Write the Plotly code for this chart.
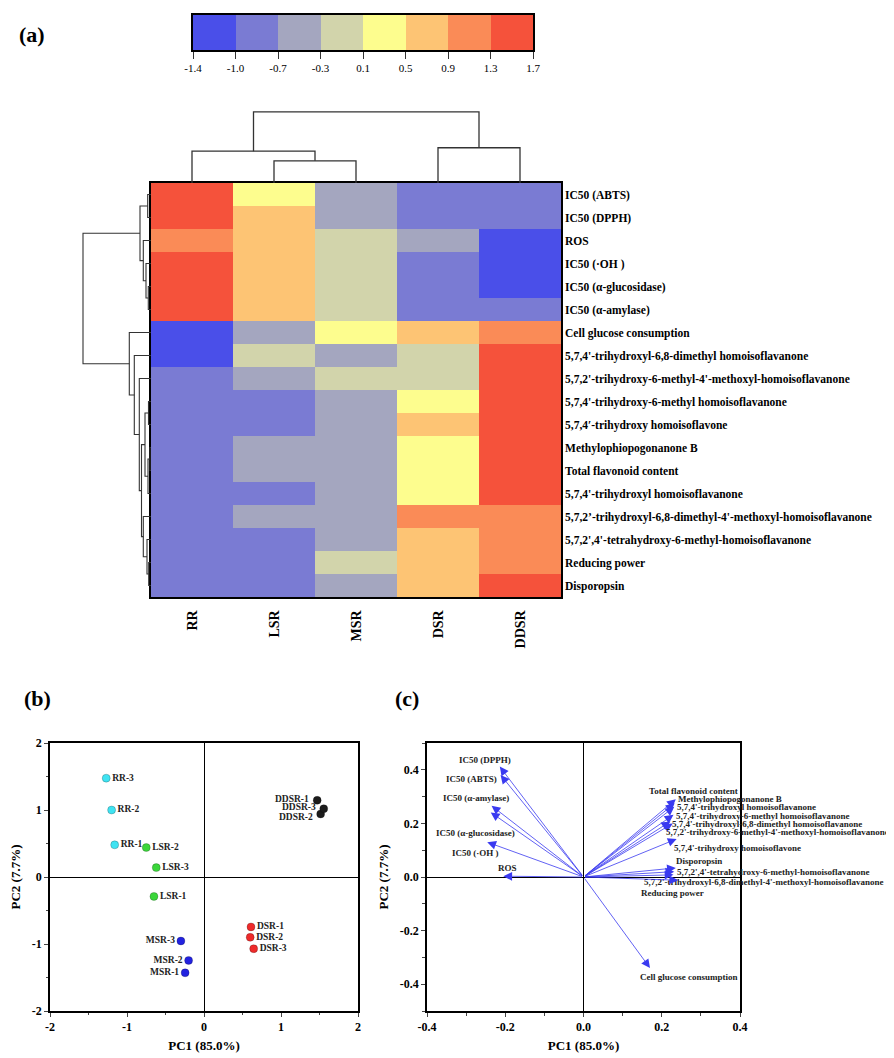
import plotly.graph_objects as go

# ---------------- DATA ----------------
samples_hm = ["RR", "LSR", "MSR", "DSR", "DDSR"]
row_labels = [
    "IC50 (ABTS)", "IC50 (DPPH)", "ROS", "IC50 (·OH )", "IC50 (α-glucosidase)", "IC50 (α-amylase)",
    "Cell glucose consumption",
    "5,7,4'-trihydroxyl-6,8-dimethyl homoisoflavanone",
    "5,7,2'-trihydroxy-6-methyl-4'-methoxyl-homoisoflavanone",
    "5,7,4'-trihydroxy-6-methyl homoisoflavanone",
    "5,7,4′-trihydroxy homoisoflavone",
    "Methylophiopogonanone B",
    "Total flavonoid content",
    "5,7,4'-trihydroxyl homoisoflavanone",
    "5,7,2’-trihydroxyl-6,8-dimethyl-4'-methoxyl-homoisoflavanone",
    "5,7,2',4'-tetrahydroxy-6-methyl-homoisoflavanone",
    "Reducing power",
    "Disporopsin",
]
heat_values = [
    [1.5, 0.3, -0.5, -0.85, -0.85],
    [1.5, 0.7, -0.5, -0.85, -0.85],
    [1.1, 0.7, -0.1, -0.5, -1.2],
    [1.5, 0.7, -0.1, -0.85, -1.2],
    [1.5, 0.7, -0.1, -0.85, -1.2],
    [1.5, 0.7, -0.1, -0.85, -0.85],
    [-1.2, -0.5, 0.3, 0.7, 1.1],
    [-1.2, -0.1, -0.5, -0.1, 1.5],
    [-0.85, -0.5, -0.1, -0.1, 1.5],
    [-0.85, -0.85, -0.5, 0.3, 1.5],
    [-0.85, -0.85, -0.5, 0.7, 1.5],
    [-0.85, -0.5, -0.5, 0.3, 1.5],
    [-0.85, -0.5, -0.5, 0.3, 1.5],
    [-0.85, -0.85, -0.5, 0.3, 1.5],
    [-0.85, -0.5, -0.5, 1.1, 1.1],
    [-0.85, -0.85, -0.5, 0.7, 1.1],
    [-0.85, -0.85, -0.1, 0.7, 1.1],
    [-0.85, -0.85, -0.5, 0.7, 1.5],
]
color_edges = [-1.4, -1.0, -0.7, -0.3, 0.1, 0.5, 0.9, 1.3, 1.7]
bin_colors = ["#4a4fe9", "#7a7bd3", "#a4a6bf", "#d2d4ab", "#fdfd8e", "#fdc474", "#fa8b57", "#f5523b"]

# dendrogram trees: (left, right, merge height); leaves are indices
col_tree = ((0, (1, 2, 22), 31.6), (3, 4, 35), 70.6)
row_tree = (
    ((0, 1, 3.3), (2, (3, (4, 5, 2.7), 5), 7.7), 11),
    (6, (7, (8, (((9, 10, 2.5), ((11, 12, 1), 13, 3), 6),
                 (14, (15, (16, 17, 2.3), 4), 7.7), 9.5), 11.7), 16.7), 21.7),
    68,
)

# PCA scores
score_names = ["RR-1", "RR-2", "RR-3", "LSR-1", "LSR-2", "LSR-3", "MSR-1", "MSR-2", "MSR-3",
               "DSR-1", "DSR-2", "DSR-3", "DDSR-1", "DDSR-2", "DDSR-3"]
score_group = ["RR"] * 3 + ["LSR"] * 3 + ["MSR"] * 3 + ["DSR"] * 3 + ["DDSR"] * 3
pc1_scores = [-1.16, -1.20, -1.27, -0.65, -0.75, -0.62, -0.245, -0.20, -0.30,
              0.61, 0.60, 0.645, 1.47, 1.515, 1.555]
pc2_scores = [0.48, 1.00, 1.475, -0.29, 0.44, 0.14, -1.43, -1.245, -0.955,
              -0.745, -0.90, -1.07, 1.145, 0.94, 1.02]

# PCA loadings
load_names = [
    "IC50 (DPPH)", "IC50 (ABTS)", "IC50 (α-amylase)", "IC50 (α-glucosidase)", "IC50 (·OH )", "ROS",
    "Total flavonoid content", "Methylophiopogonanone B",
    "5,7,4'-trihydroxyl homoisoflavanone", "5,7,4'-trihydroxy-6-methyl homoisoflavanone",
    "5,7,4'-trihydroxyl-6,8-dimethyl homoisoflavanone",
    "5,7,2'-trihydroxy-6-methyl-4'-methoxyl-homoisoflavanone",
    "5,7,4'-trihydroxy homoisoflavone", "Disporopsin",
    "5,7,2',4'-tetrahydroxy-6-methyl-homoisoflavanone",
    "5,7,2'-trihydroxyl-6,8-dimethyl-4'-methoxyl-homoisoflavanone",
    "Reducing power", "Cell glucose consumption",
]
load_pc1 = [-0.214, -0.212, -0.235, -0.237, -0.246, -0.205,
            0.236, 0.233, 0.232, 0.230, 0.222, 0.228, 0.238, 0.236, 0.232, 0.230, 0.242, 0.170]
load_pc2 = [0.412, 0.381, 0.266, 0.241, 0.130, 0.003,
            0.290, 0.275, 0.262, 0.232, 0.207, 0.200, 0.142, 0.034, 0.020, 0.008, -0.012, -0.340]

# ---------------- LAYOUT HELPERS ----------------
# the page body has an 8px margin, so the figure is drawn 8px in from the window corner
OFF = 8
W, H = 894 - OFF, 1058 - OFF
def fx(p): return (p - OFF) / W
def fy(p): return 1 - (p - OFF) / H

SERIF = "Liberation Serif"
fig = go.Figure()

zmin, zmax = color_edges[0], color_edges[-1]
cscale = []
for i, c in enumerate(bin_colors):
    cscale.append([(color_edges[i] - zmin) / (zmax - zmin), c])
    cscale.append([(color_edges[i + 1] - zmin) / (zmax - zmin), c])

# main heatmap
fig.add_trace(go.Heatmap(z=heat_values, x=samples_hm, y=row_labels, colorscale=cscale,
                         zmin=zmin, zmax=zmax, showscale=False, xaxis="x", yaxis="y",
                         hoverinfo="skip"))

# colour bar as its own strip
bin_mids = [(color_edges[i] + color_edges[i + 1]) / 2 for i in range(len(bin_colors))]
fig.add_trace(go.Heatmap(z=[bin_mids], x=list(range(len(bin_mids))), y=[0], colorscale=cscale,
                         zmin=zmin, zmax=zmax, showscale=False, xaxis="x2", yaxis="y2",
                         hoverinfo="skip"))

# dendrograms
def layout_tree(node, segs):
    if isinstance(node, int):
        return float(node), 0.0
    l, r, h = node
    pl, hl = layout_tree(l, segs)
    pr, hr = layout_tree(r, segs)
    segs.append(((pl, hl), (pl, h), (pr, h), (pr, hr)))
    return (pl + pr) / 2, h

csegs = []
layout_tree(col_tree, csegs)
cx, cy = [], []
for s in csegs:
    for p, hgt in s:
        cx.append(p); cy.append(hgt)
    cx.append(None); cy.append(None)
fig.add_trace(go.Scatter(x=cx, y=cy, mode="lines", line=dict(color="#333", width=1.3),
                         xaxis="x3", yaxis="y3", hoverinfo="skip", cliponaxis=False))

rsegs = []
layout_tree(row_tree, rsegs)
rx, ry = [], []
for s in rsegs:
    for p, hgt in s:
        rx.append(hgt); ry.append(p)
    rx.append(None); ry.append(None)
fig.add_trace(go.Scatter(x=rx, y=ry, mode="lines", line=dict(color="#333", width=1.1),
                         xaxis="x4", yaxis="y4", hoverinfo="skip", cliponaxis=False))

# PCA scores
group_colors = {"RR": "#3fe3f2", "LSR": "#3ad63a", "MSR": "#2222e0", "DSR": "#ee2b2b", "DDSR": "#1c1c1c"}
group_textpos = {"RR": "middle right", "LSR": "middle right", "MSR": "middle left",
                 "DSR": "middle right", "DDSR": "middle left"}
for g in ["RR", "LSR", "MSR", "DSR", "DDSR"]:
    idx = [i for i, gg in enumerate(score_group) if gg == g]
    show_text = g != "DDSR"
    fig.add_trace(go.Scatter(
        x=[pc1_scores[i] for i in idx], y=[pc2_scores[i] for i in idx],
        text=[f"<b>{score_names[i]}</b>" for i in idx],
        mode="markers+text" if show_text else "markers",
        textposition=group_textpos[g],
        textfont=dict(family=SERIF, size=9.5, color="#222"),
        marker=dict(size=8, color=group_colors[g], line=dict(color="rgba(0,0,0,0.35)", width=0.6)),
        xaxis="x5", yaxis="y5", hoverinfo="skip", cliponaxis=False))

fig.add_trace(go.Scatter(x=load_pc1, y=load_pc2, mode="markers", marker=dict(size=1, color="rgba(0,0,0,0)"),
                         xaxis="x6", yaxis="y6", hoverinfo="skip"))

# ---------------- AXES ----------------
frame = dict(showline=True, linecolor="black", linewidth=1.5, mirror=True, automargin=False)
tickfont_b = dict(family=SERIF, size=12, color="black")

X6_DOM = [fx(427), fx(740)]
Y6_DOM = [fy(1011), fy(743)]
X6_RANGE = [-0.4, 0.4]
Y6_RANGE = [-0.5, 0.5]

fig.update_layout(
    width=W, height=H, margin=dict(l=0, r=0, t=0, b=0, autoexpand=False),
    paper_bgcolor="white", plot_bgcolor="white", showlegend=False,
    font=dict(family=SERIF, color="black"),
    xaxis=dict(domain=[fx(151), fx(561)], anchor="y", tickangle=-90, ticks="", showgrid=False,
               tickfont=dict(family=SERIF, size=14, color="black"), ticklabelstandoff=6, **frame),
    yaxis=dict(domain=[fy(597), fy(183)], anchor="x", autorange="reversed", side="right", ticks="",
               showgrid=False, tickfont=dict(family=SERIF, size=11.5, color="black"),
               ticklabelstandoff=0, **frame),
    xaxis2=dict(domain=[fx(193), fx(533)], anchor="y2", range=[-0.5, 7.5],
                tickvals=[i - 0.5 for i in range(len(color_edges))],
                ticktext=[f"{e:.1f}" for e in color_edges], ticks="outside", ticklen=7,
                tickcolor="#333", tickfont=dict(family=SERIF, size=11, color="black"),
                showgrid=False, zeroline=False, **frame),
    yaxis2=dict(domain=[fy(50), fy(15)], anchor="x2", showticklabels=False, ticks="",
                showgrid=False, zeroline=False, **frame),
    xaxis3=dict(domain=[fx(151), fx(561)], anchor="y3", range=[-0.5, 4.5], visible=False, automargin=False),
    yaxis3=dict(domain=[fy(183), fy(111)], anchor="x3", range=[0, 71.5], visible=False, automargin=False),
    xaxis4=dict(domain=[fx(80), fx(151)], anchor="y4", range=[71, 0], visible=False, automargin=False),
    yaxis4=dict(domain=[fy(597), fy(183)], anchor="x4", range=[17.5, -0.5], visible=False, automargin=False),
    xaxis5=dict(domain=[fx(50), fx(358)], anchor="y5", range=[-2, 2], ticks="outside",
                ticklen=4, minor=dict(dtick=0.5, ticks="outside", ticklen=2),
                showgrid=False, zeroline=True, zerolinecolor="black", zerolinewidth=1.2,
                tickfont=tickfont_b,
                title=dict(text="<b>PC1 (85.0%)</b>", font=dict(family=SERIF, size=13), standoff=8),
                **frame),
    yaxis5=dict(domain=[fy(1011), fy(743)], anchor="x5", range=[-2, 2], ticks="outside",
                ticklen=4, minor=dict(dtick=0.5, ticks="outside", ticklen=2),
                showgrid=False, zeroline=True, zerolinecolor="black", zerolinewidth=1.2,
                tickfont=tickfont_b,
                title=dict(text="<b>PC2 (7.7%)</b>", font=dict(family=SERIF, size=13), standoff=8),
                **frame),
    xaxis6=dict(domain=X6_DOM, anchor="y6", range=X6_RANGE,
                ticks="outside", ticklen=4, minor=dict(dtick=0.1, ticks="outside", ticklen=3),
                showgrid=False, zeroline=True, zerolinecolor="black", zerolinewidth=1.2,
                tickfont=tickfont_b,
                title=dict(text="<b>PC1 (85.0%)</b>", font=dict(family=SERIF, size=13), standoff=8),
                **frame),
    yaxis6=dict(domain=Y6_DOM, anchor="x6", range=Y6_RANGE,
                ticks="outside", ticklen=4, minor=dict(dtick=0.1, ticks="outside", ticklen=3),
                showgrid=False, zeroline=True, zerolinecolor="black", zerolinewidth=1.2,
                tickfont=tickfont_b,
                title=dict(text="<b>PC2 (7.7%)</b>", font=dict(family=SERIF, size=13), standoff=8),
                **frame),
)

fig.layout.xaxis.tickvals = samples_hm
fig.layout.xaxis.ticktext = [f"<b>{s}</b>" for s in samples_hm]
fig.layout.yaxis.tickvals = row_labels
fig.layout.yaxis.ticktext = [f"<b>{s}</b>" for s in row_labels]
tv5 = [-2, -1, 0, 1, 2]
fig.layout.xaxis5.tickvals = tv5
fig.layout.xaxis5.ticktext = [f"<b>{v}</b>" for v in tv5]
fig.layout.yaxis5.tickvals = tv5
fig.layout.yaxis5.ticktext = [f"<b>{v}</b>" for v in tv5]
tv6 = [-0.4, -0.2, 0.0, 0.2, 0.4]
fig.layout.xaxis6.tickvals = tv6
fig.layout.xaxis6.ticktext = [f"<b>{v:.1f}</b>" for v in tv6]
fig.layout.yaxis6.tickvals = tv6
fig.layout.yaxis6.ticktext = [f"<b>{v:.1f}</b>" for v in tv6]

annos = []

# DDSR score labels (placed left of the points, nudged apart)
ddsr_shift = {"DDSR-1": 1, "DDSR-2": -3, "DDSR-3": 2}
for i, nm in enumerate(score_names):
    if score_group[i] == "DDSR":
        annos.append(dict(x=pc1_scores[i], y=pc2_scores[i], xref="x5", yref="y5", showarrow=False,
                          xanchor="right", yanchor="middle", xshift=-6, yshift=ddsr_shift[nm],
                          text=f"<b>{nm}</b>", font=dict(family=SERIF, size=9.5, color="#222")))

# ---------------- LOADING ARROWS AND LABELS ----------------
label_pos = [
    (-0.252, 0.437), (-0.286, 0.365), (-0.274, 0.293), (-0.277, 0.164), (-0.277, 0.089), (-0.194, 0.032),
    (0.281, 0.321), (0.374, 0.291), (0.416, 0.260), (0.458, 0.229), (0.469, 0.198), (0.496, 0.167),
    (0.393, 0.108), (0.294, 0.058), (0.485, 0.019), (0.462, -0.019), (0.227, -0.060), (0.269, -0.374),
]

def to_paper(v, dom, rng):
    return dom[0] + (v - rng[0]) / (rng[1] - rng[0]) * (dom[1] - dom[0])

for name, lx, ly, (tx, ty) in zip(load_names, load_pc1, load_pc2, label_pos):
    annos.append(dict(x=lx, y=ly, ax=0, ay=0, xref="x6", yref="y6", axref="x6", ayref="y6",
                      showarrow=True, arrowhead=2, arrowsize=2.2, arrowwidth=0.8,
                      arrowcolor="#3a3af0", text=""))
    annos.append(dict(x=to_paper(tx, X6_DOM, X6_RANGE), y=to_paper(ty, Y6_DOM, Y6_RANGE),
                      xref="paper", yref="paper", showarrow=False, xanchor="center", yanchor="middle",
                      text=f"<b>{name}</b>", font=dict(family=SERIF, size=9, color="#222")))

for txt, px, py in [("(a)", 32, 35), ("(b)", 37, 698), ("(c)", 407, 698)]:
    annos.append(dict(x=fx(px), y=fy(py), xref="paper", yref="paper", showarrow=False,
                      xanchor="center", yanchor="middle",
                      text=f"<b>{txt}</b>", font=dict(family=SERIF, size=22, color="black")))
fig.update_layout(annotations=annos)

fig.write_html("out.html")
